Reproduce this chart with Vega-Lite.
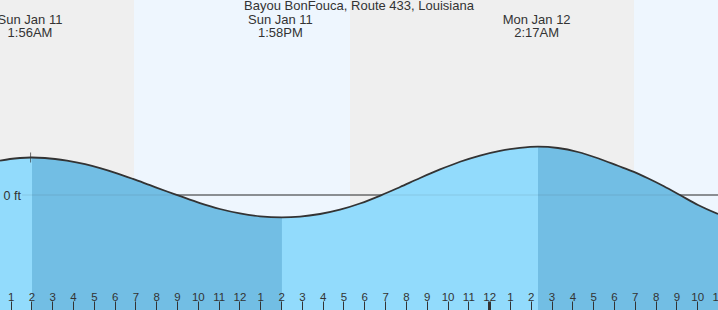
{
  "$schema": "https://vega.github.io/schema/vega-lite/v6.json",
  "width": 718,
  "height": 310,
  "padding": 0,
  "autosize": "none",
  "background": "#ffffff",
  "config": {"view": {"stroke": null}, "font": "Liberation Sans"},
  "title": {"text": "Bayou BonFouca, Route 433, Louisiana", "fontSize": 13, "fontWeight": "normal", "color": "#333333", "font": "Liberation Sans", "anchor": "middle", "baseline": "alphabetic", "offset": -23, "frame": "group"},
  "datasets": {
    "bands": [
      {"t": 0.49, "t2": 6.93, "kind": "night"},
      {"t": 6.93, "t2": 17.31, "kind": "day"},
      {"t": 17.31, "t2": 30.96, "kind": "night"},
      {"t": 30.96, "t2": 35.0, "kind": "day"}
    ],
    "zero": [{"t": 1.55, "t2": 35.0, "ft": 0}],
    "tide": [
      {"t": 0.49, "ft": 0.686, "ebb": 0},
      {"t": 0.97, "ft": 0.72, "ebb": 0},
      {"t": 1.45, "ft": 0.74, "ebb": 0},
      {"t": 1.96, "ft": 0.75, "ebb": 0},
      {"t": 2.03, "ft": 0.75, "ebb": 1},
      {"t": 2.65, "ft": 0.74, "ebb": 1},
      {"t": 3.71, "ft": 0.686, "ebb": 1},
      {"t": 4.58, "ft": 0.616, "ebb": 1},
      {"t": 5.30, "ft": 0.538, "ebb": 1},
      {"t": 6.11, "ft": 0.434, "ebb": 1},
      {"t": 6.88, "ft": 0.322, "ebb": 1},
      {"t": 7.70, "ft": 0.196, "ebb": 1},
      {"t": 8.52, "ft": 0.07, "ebb": 1},
      {"t": 9.05, "ft": -0.008, "ebb": 1},
      {"t": 10.10, "ft": -0.162, "ebb": 1},
      {"t": 11.06, "ft": -0.28, "ebb": 1},
      {"t": 12.02, "ft": -0.368, "ebb": 1},
      {"t": 12.99, "ft": -0.426, "ebb": 1},
      {"t": 14.04, "ft": -0.446, "ebb": 1},
      {"t": 14.91, "ft": -0.432, "ebb": 0},
      {"t": 15.87, "ft": -0.38, "ebb": 0},
      {"t": 16.83, "ft": -0.294, "ebb": 0},
      {"t": 17.79, "ft": -0.17, "ebb": 0},
      {"t": 18.80, "ft": -0.006, "ebb": 0},
      {"t": 19.72, "ft": 0.161, "ebb": 0},
      {"t": 20.68, "ft": 0.341, "ebb": 0},
      {"t": 21.64, "ft": 0.511, "ebb": 0},
      {"t": 22.60, "ft": 0.665, "ebb": 0},
      {"t": 23.56, "ft": 0.789, "ebb": 0},
      {"t": 24.52, "ft": 0.883, "ebb": 0},
      {"t": 25.48, "ft": 0.943, "ebb": 0},
      {"t": 26.35, "ft": 0.967, "ebb": 2},
      {"t": 27.31, "ft": 0.94, "ebb": 2},
      {"t": 28.27, "ft": 0.86, "ebb": 2},
      {"t": 29.23, "ft": 0.735, "ebb": 2},
      {"t": 30.19, "ft": 0.585, "ebb": 2},
      {"t": 30.96, "ft": 0.462, "ebb": 2},
      {"t": 31.63, "ft": 0.335, "ebb": 2},
      {"t": 32.40, "ft": 0.175, "ebb": 2},
      {"t": 33.17, "ft": 0.0, "ebb": 2},
      {"t": 34.04, "ft": -0.2, "ebb": 2},
      {"t": 35.0, "ft": -0.38, "ebb": 2}
    ],
    "marker": [{"t": 1.96, "ft": 0.75}],
    "extremes": [
      {"t": 1.933, "label": "Sun Jan 11\n1:56AM"},
      {"t": 13.967, "label": "Sun Jan 11\n1:58PM"},
      {"t": 26.283, "label": "Mon Jan 12\n2:17AM"}
    ]
  },
  "encoding": {
    "x": {"field": "t", "type": "quantitative", "scale": {"domain": [0.49, 35.0], "nice": false, "zero": false},
      "axis": {"values": [1,2,3,4,5,6,7,8,9,10,11,12,13,14,15,16,17,18,19,20,21,22,23,24,25,26,27,28,29,30,31,32,33,34,35],
        "labelExpr": "datum.value % 12 == 0 ? '12' : '' + (datum.value % 12)",
        "title": null, "domain": false, "grid": false, "tickSize": -9, "tickColor": "#333333",
        "tickWidth": {"condition": {"test": "datum.value == 24", "value": 3}, "value": 1},
        "labelFontSize": 11.5, "labelFont": "Liberation Sans", "labelColor": "#333333", "labelPadding": -1,
        "labelBaseline": "alphabetic", "labelOverlap": false, "labelFlush": false, "labelBound": false, "zindex": 1}}
  },
  "layer": [
    {
      "data": {"name": "bands"},
      "mark": {"type": "rect"},
      "encoding": {
        "x2": {"field": "t2"},
        "color": {"field": "kind", "type": "nominal", "scale": {"domain": ["night", "day"], "range": ["#efefef", "#eef6fe"]}, "legend": null}
      }
    },
    {
      "data": {"name": "zero"},
      "mark": {"type": "rule", "color": "#333333", "strokeWidth": 1},
      "encoding": {"x2": {"field": "t2"}, "y": {"field": "ft", "type": "quantitative"}}
    },
    {
      "data": {"name": "tide"},
      "mark": {"type": "area", "color": "#92dbfc", "interpolate": "monotone"},
      "encoding": {
        "y": {"field": "ft", "type": "quantitative", "scale": {"domain": [-2.3, 3.9], "nice": false, "zero": false},
          "axis": {"values": [0], "labelExpr": "datum.value + ' ft'", "title": null, "domain": false, "ticks": false, "grid": false,
            "labelAlign": "left", "labelBaseline": "middle", "labelPadding": -3, "labelFontSize": 12.5, "labelFont": "Liberation Sans", "labelColor": "#333333", "zindex": 1}},
        "y2": {"datum": -2.3}
      }
    },
    {
      "data": {"name": "tide"},
      "transform": [{"filter": "datum.ebb > 0"}],
      "mark": {"type": "area", "color": "#72bee4", "interpolate": "monotone"},
      "encoding": {
        "y": {"field": "ft", "type": "quantitative"},
        "y2": {"datum": -2.3},
        "detail": {"field": "ebb", "type": "nominal"}
      }
    },
    {
      "data": {"name": "zero"},
      "mark": {"type": "rule", "color": "#333333", "strokeWidth": 1, "opacity": 0.12},
      "encoding": {"x2": {"field": "t2"}, "y": {"field": "ft", "type": "quantitative"}}
    },
    {
      "data": {"name": "tide"},
      "mark": {"type": "line", "color": "#333333", "strokeWidth": 1.8, "interpolate": "monotone"},
      "encoding": {"y": {"field": "ft", "type": "quantitative"}}
    },
    {
      "data": {"name": "marker"},
      "mark": {"type": "tick", "orient": "vertical", "color": "#333333", "size": 10, "thickness": 1},
      "encoding": {"y": {"field": "ft", "type": "quantitative"}}
    },
    {
      "data": {"name": "extremes"},
      "mark": {"type": "text", "fontSize": 13, "font": "Liberation Sans", "color": "#333333", "align": "center", "baseline": "alphabetic", "lineBreak": "\n", "lineHeight": 13},
      "encoding": {
        "y": {"datum": 3.42, "type": "quantitative"},
        "text": {"field": "label"}
      }
    }
  ]
}
